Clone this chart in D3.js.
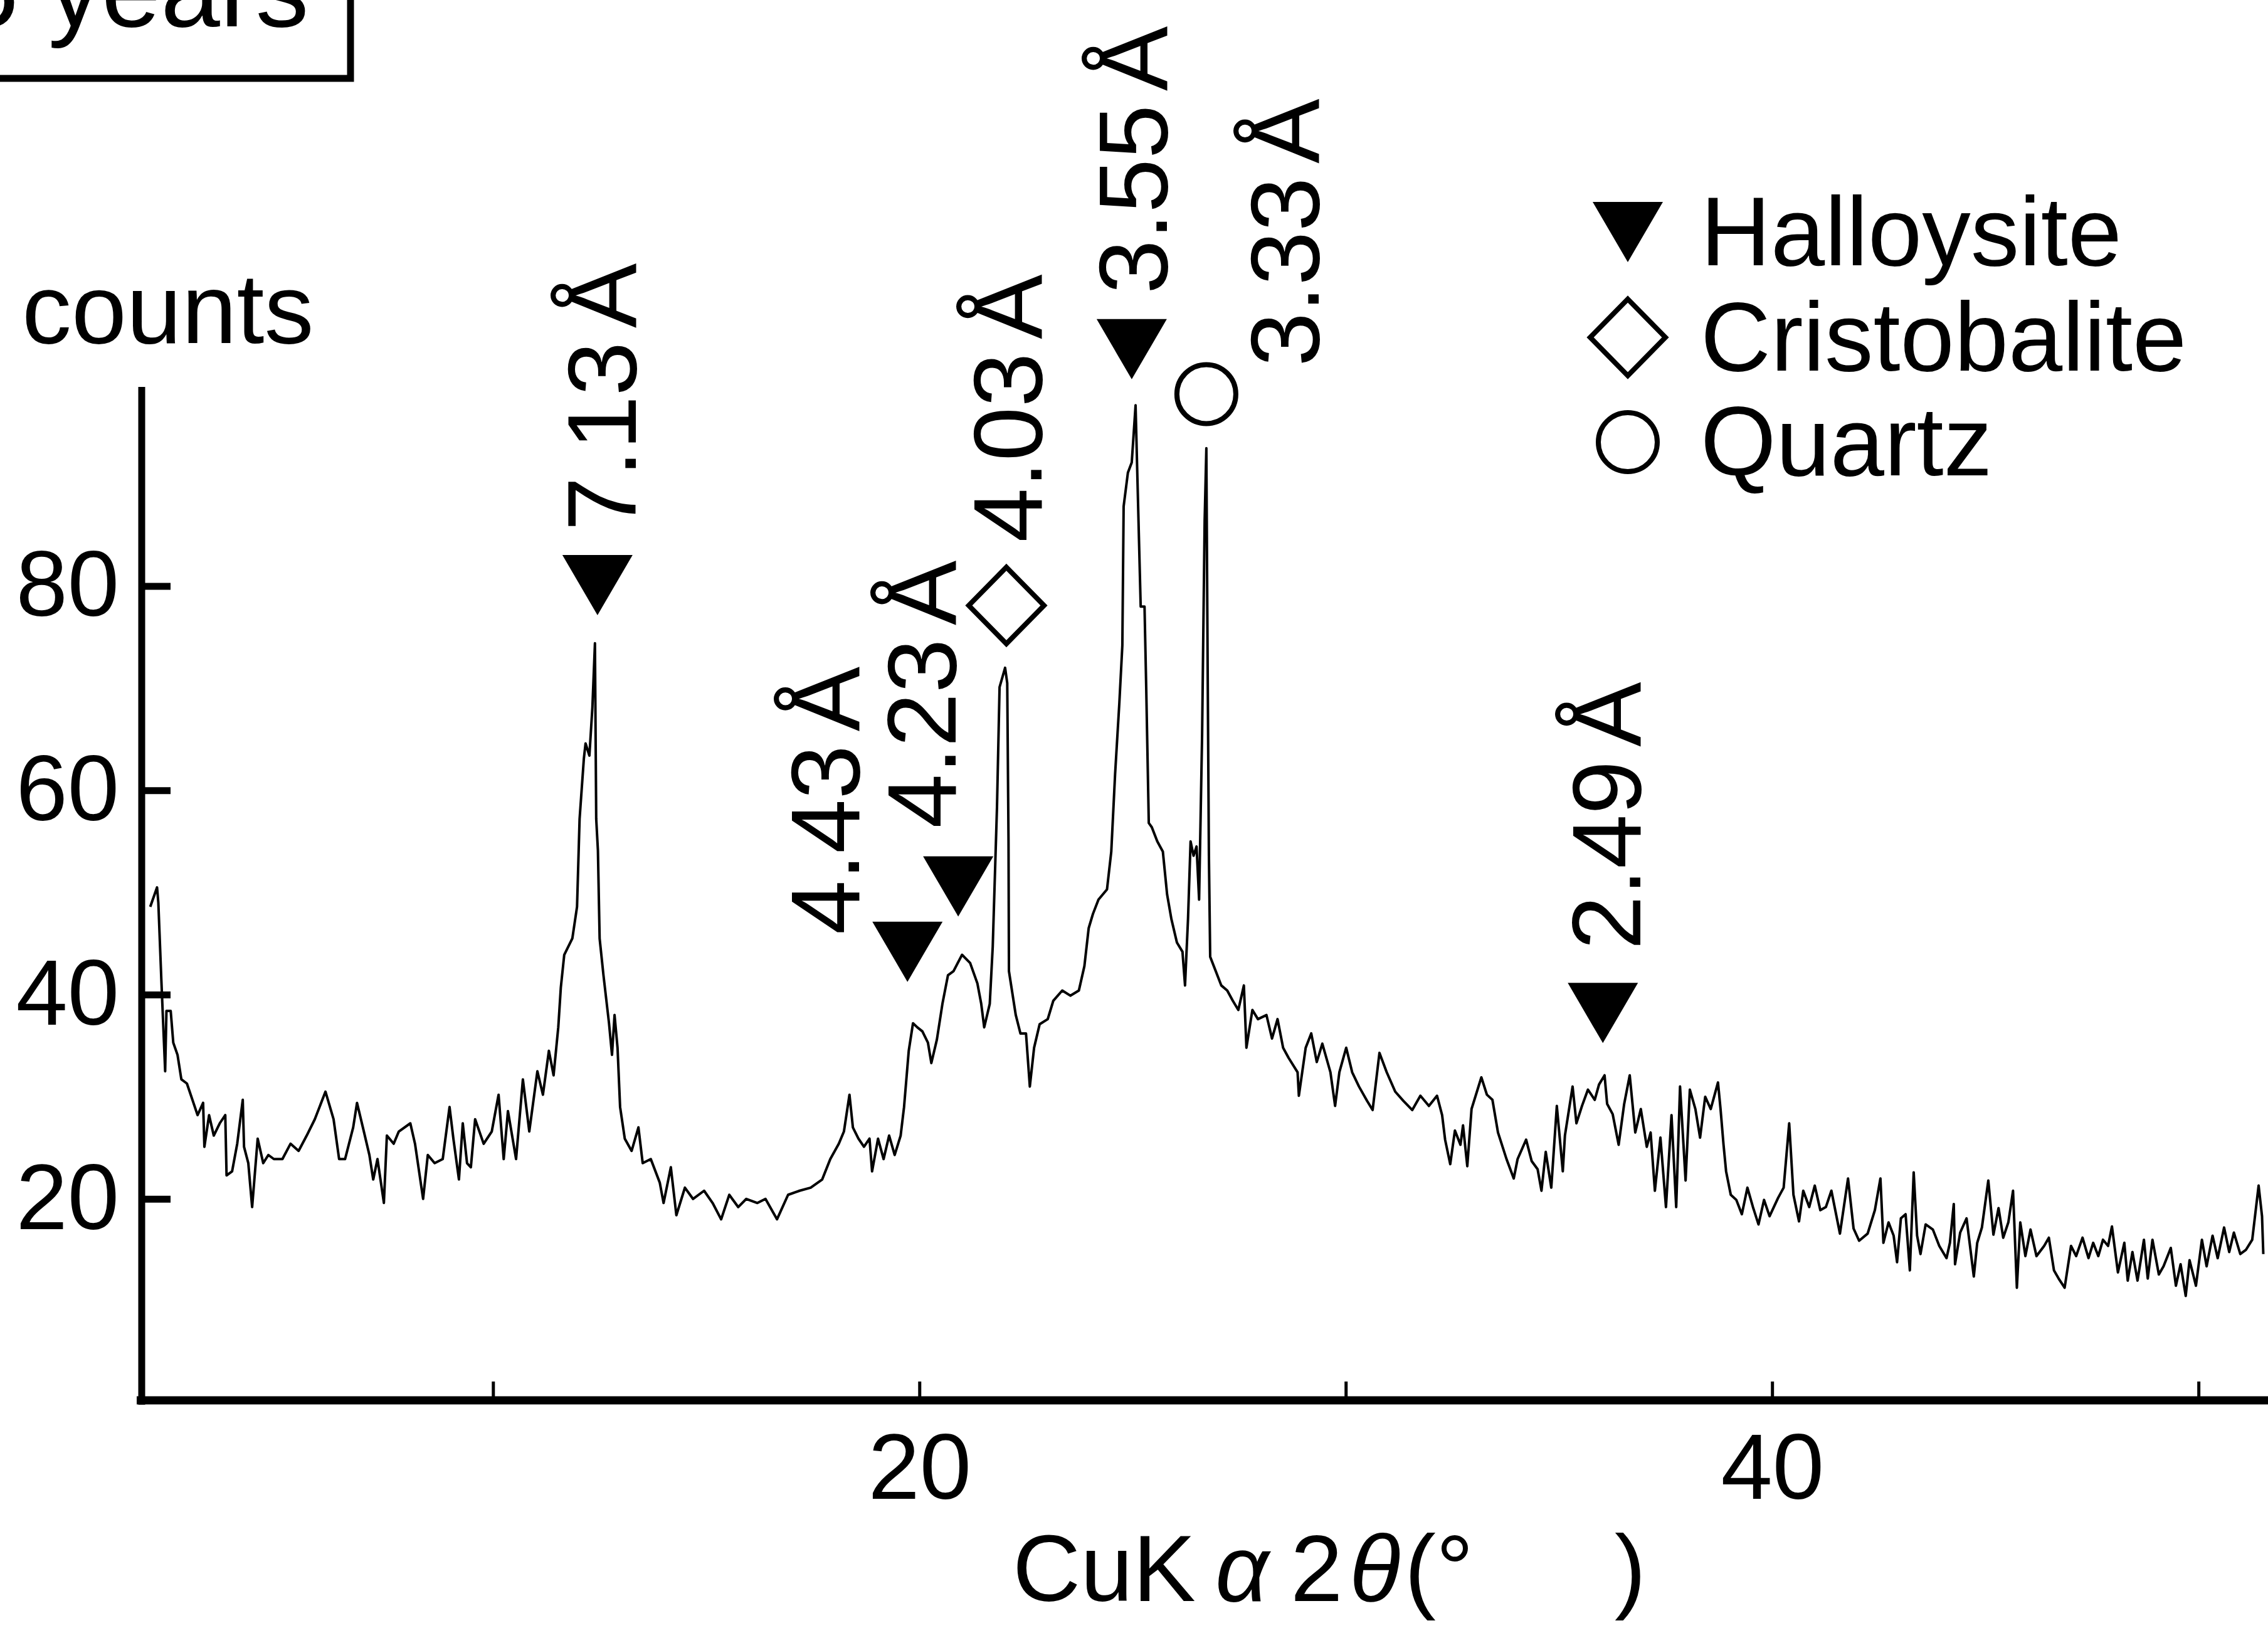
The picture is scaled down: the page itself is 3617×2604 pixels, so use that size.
<!DOCTYPE html>
<html><head><meta charset="utf-8">
<script src="https://cdn.jsdelivr.net/npm/d3@7"></script>
<style>html,body{margin:0;padding:0;background:#fff;overflow:hidden}svg{display:block}</style>
</head><body>
<script>
// ---------- data ----------
const twoTheta = [
1.96,2.12,2.15,2.22,2.31,2.34,2.44,2.50,2.60,2.69,2.82,2.95,3.07,3.20,3.23,3.34,3.45,3.59,3.72,3.75,3.88,4.00,4.13,4.16,4.26,4.35,4.48,4.61,4.73,4.86,5.06,5.25,5.44,5.63,5.82,6.07,6.26,6.39,6.53,6.72,6.81,6.97,7.10,7.19,7.29,7.44,7.51,7.67,7.79,8.06,8.17,8.36,8.47,8.63,8.82,8.98,9.07,9.20,9.29,9.39,9.48,9.58,9.78,9.97,10.13,10.25,10.35,10.54,10.70,10.85,11.04,11.17,11.31,11.42,11.53,11.59,11.67,11.86,11.97,12.03,12.13,12.17,12.26,12.33,12.39,12.42,12.46,12.50,12.59,12.72,12.79,12.85,12.92,12.98,13.09,13.25,13.41,13.51,13.70,13.91,14.00,14.17,14.30,14.50,14.69,14.95,15.15,15.35,15.54,15.75,15.94,16.20,16.39,16.66,16.92,17.19,17.45,17.72,17.91,18.11,18.23,18.36,18.44,18.57,18.70,18.83,18.89,19.03,19.16,19.29,19.42,19.56,19.64,19.75,19.85,19.95,20.07,20.20,20.28,20.41,20.54,20.67,20.80,21.00,21.19,21.36,21.45,21.52,21.65,21.72,21.82,21.88,22.01,22.06,22.09,22.10,22.26,22.37,22.50,22.59,22.69,22.82,23.01,23.14,23.35,23.54,23.74,23.87,23.97,24.07,24.20,24.40,24.50,24.59,24.69,24.76,24.79,24.89,24.98,25.07,25.11,25.19,25.28,25.32,25.38,25.45,25.58,25.71,25.81,25.91,26.04,26.17,26.23,26.30,26.36,26.43,26.50,26.56,26.63,26.69,26.73,26.76,26.79,26.82,26.95,27.08,27.22,27.35,27.48,27.61,27.67,27.81,27.94,28.14,28.27,28.40,28.53,28.66,28.87,28.90,29.06,29.19,29.32,29.45,29.64,29.75,29.85,30.01,30.15,30.31,30.50,30.63,30.79,30.96,31.16,31.35,31.56,31.75,31.95,32.14,32.26,32.33,32.45,32.56,32.69,32.75,32.85,32.95,33.18,33.31,33.44,33.57,33.77,33.94,34.03,34.23,34.36,34.50,34.59,34.69,34.82,34.95,35.09,35.14,35.32,35.41,35.54,35.68,35.84,35.94,36.07,36.13,36.26,36.40,36.53,36.66,36.79,36.92,37.06,37.15,37.25,37.38,37.51,37.64,37.75,37.84,37.97,38.07,38.20,38.31,38.43,38.56,38.73,38.79,38.86,38.92,39.03,39.16,39.29,39.42,39.55,39.68,39.81,39.94,40.14,40.27,40.40,40.50,40.63,40.73,40.87,41.00,41.13,41.26,41.39,41.59,41.78,41.91,42.04,42.24,42.41,42.54,42.61,42.73,42.85,42.93,43.02,43.13,43.23,43.32,43.40,43.48,43.60,43.77,43.92,44.09,44.17,44.26,44.29,44.41,44.56,44.73,44.81,44.92,45.07,45.19,45.31,45.42,45.54,45.65,45.74,45.82,45.94,46.06,46.20,46.38,46.49,46.61,46.72,46.86,47.01,47.13,47.28,47.42,47.53,47.65,47.76,47.88,47.97,48.11,48.26,48.34,48.45,48.57,48.72,48.81,48.92,49.07,49.18,49.35,49.47,49.58,49.70,49.79,49.94,50.08,50.19,50.33,50.45,50.60,50.72,50.83,50.98,51.11,51.26,51.41,51.49,51.52];
const counts = [
48.6,50.5,49.0,41.5,32.5,38.4,38.4,35.3,34.1,31.7,31.3,29.7,28.2,29.4,25.1,28.2,26.2,27.4,28.2,22.3,22.7,25.4,29.7,25.1,23.5,19.2,25.9,23.5,24.3,23.9,23.9,25.4,24.7,26.2,27.8,30.5,27.8,23.9,23.9,27.0,29.4,26.6,24.3,21.9,23.9,19.6,26.2,25.4,26.6,27.4,25.4,20.0,24.3,23.5,23.9,29.0,25.9,21.9,27.4,23.5,23.1,27.8,25.4,26.6,30.2,23.9,28.6,23.9,31.7,26.6,32.5,30.2,34.5,32.1,36.8,40.7,43.9,45.5,48.6,57.2,63.1,64.6,63.4,68.1,74.4,57.2,54.1,45.5,41.9,37.2,34.1,38.0,34.8,29.0,25.9,24.7,27.0,23.5,23.9,21.6,19.6,23.1,18.4,21.1,20.0,20.8,19.6,18.0,20.4,19.2,20.0,19.6,20.0,18.0,20.4,20.8,21.1,21.9,23.9,25.4,26.6,30.2,27.0,25.9,25.1,25.9,22.7,25.9,23.9,26.2,24.3,26.2,29.0,34.5,37.2,36.8,36.4,35.3,33.3,35.6,39.1,41.9,42.3,43.9,43.1,41.1,39.1,36.8,39.1,44.7,58.4,70.1,72.0,70.5,55.0,42.3,38.0,36.2,36.2,31.0,34.8,37.1,37.6,39.4,40.4,39.9,40.4,42.8,46.5,47.9,49.3,50.3,54.0,61.6,68.6,74.2,87.8,91.1,92.1,97.7,91.1,78.0,78.0,70.0,56.8,56.4,55.0,54.0,49.8,47.4,45.1,44.2,40.9,47.4,55.0,53.6,54.5,49.3,65.3,86.4,93.5,72.4,53.6,43.7,42.3,40.9,40.4,39.4,38.5,40.9,34.8,38.5,37.6,38.0,35.7,37.6,34.8,33.8,32.4,30.1,34.8,36.2,33.4,35.2,32.4,29.1,32.4,34.8,32.4,31.0,29.6,28.7,34.3,32.4,30.5,29.6,28.7,30.1,29.1,30.1,28.2,25.8,23.4,26.7,25.3,27.2,23.2,28.8,31.9,30.2,29.7,26.5,23.9,22.0,23.9,25.8,23.7,22.9,20.8,24.6,21.1,29.1,22.7,26.2,31.0,27.4,29.1,30.7,29.7,31.2,32.1,29.3,28.3,25.3,29.3,32.1,26.5,28.8,25.1,26.5,20.8,26.0,19.2,28.2,19.2,31.0,21.8,30.7,28.8,26.0,30.0,28.8,31.4,28.8,25.3,22.7,20.4,19.9,18.5,21.1,19.2,17.5,19.9,18.3,20.1,21.1,27.4,20.4,17.8,20.8,19.2,21.3,18.9,19.2,20.8,16.6,22.0,17.1,15.9,16.6,18.9,22.0,15.7,17.7,16.4,13.8,18.1,18.5,13.0,22.6,16.4,14.6,17.5,17.0,15.4,14.2,15.7,19.5,13.6,16.7,18.1,12.4,15.7,17.2,21.8,16.5,19.1,16.2,17.7,20.8,11.3,17.7,14.4,17.0,14.4,15.4,16.2,13.0,12.2,11.3,15.4,14.4,16.2,14.2,15.7,14.4,16.0,15.4,17.3,12.8,15.7,12.0,14.8,12.0,16.0,12.2,16.0,12.6,13.4,15.2,11.5,13.6,10.5,14.0,11.5,16.0,13.4,16.4,14.2,17.2,14.8,16.7,14.6,15.0,16.0,21.3,18.3,14.6];

const xTickValues = [10, 20, 30, 40, 50];
const xTickLabels = ["", "20", "", "40", ""];
const yTickValues = [20, 40, 60, 80];

const peakD      = ["7.13", "4.43", "4.23", "4.03", "3.55", "3.33", "2.49"];
const peakPhase  = ["Halloysite", "Halloysite", "Halloysite", "Cristobalite", "Halloysite", "Quartz", "Halloysite"];
const peakTheta  = [12.45, 19.72, 20.91, 22.04, 24.98, 26.73, 36.03];   // marker 2θ
const peakLevel  = [80.1, 44.2, 50.6, 78.1, 103.2, 98.8, 38.2];         // marker height (counts)
const labelTheta = [13.35, 18.59, 20.85, 22.86, 25.81, 29.36, 36.91];   // label baseline 2θ
const labelLevel = [85.4, 45.9, 56.3, 84.3, 108.6, 101.5, 44.4];        // label start (counts)

const legendPhases = ["Halloysite", "Cristobalite", "Quartz"];

// ---------- layout ----------
const W = 3617, H = 2604;
const FONT = "'Liberation Sans', Arial, Helvetica, sans-serif";
const svg = d3.select("body").append("svg").attr("width", W).attr("height", H)
  .style("font-family", FONT);
svg.append("rect").attr("width", W).attr("height", H).attr("fill", "#fff");

const x = d3.scaleLinear().domain([1.76, 51.63]).range([226, 3617]);
const y = d3.scaleLinear().domain([0, 99.5]).range([2237.5, 617]);
const axisY = 2233;

// title box (partially cut off at top-left, as in the reference)
svg.append("rect").attr("x", -30).attr("y", -300).attr("width", 589).attr("height", 425)
  .attr("fill", "none").attr("stroke", "#000").attr("stroke-width", 11);
svg.append("text").attr("x", -65).attr("y", 42).attr("font-size", 170).text("5 years");

// y-axis caption
svg.append("text").attr("x", 35).attr("y", 547).attr("font-size", 158).text("counts");

// trace
const pts = twoTheta.map((t, i) => [t, counts[i]]);
svg.append("path").datum(pts)
  .attr("fill", "none").attr("stroke", "#000").attr("stroke-width", 4)
  .attr("stroke-linejoin", "round")
  .attr("d", d3.line().x(d => x(d[0])).y(d => y(d[1])));

// x axis
const gx = svg.append("g").attr("transform", `translate(0,${axisY})`)
  .call(d3.axisBottom(x).tickValues(xTickValues)
    .tickFormat((d, i) => xTickLabels[i]).tickSizeInner(-30).tickSizeOuter(0).tickPadding(52));
gx.select(".domain").attr("stroke-width", 13).attr("d", `M218,0H${W}`);
gx.selectAll(".tick line").attr("stroke-width", 5);
gx.selectAll(".tick text").attr("font-size", 148).attr("font-family", FONT).attr("fill", "#000");

// y axis
const gy = svg.append("g").attr("transform", `translate(${x(1.76)},0)`)
  .call(d3.axisLeft(y).tickValues(yTickValues).tickSizeInner(-46).tickSizeOuter(0).tickPadding(36));
gy.select(".domain").attr("stroke-width", 11).attr("d", `M0,2240V617`);
gy.selectAll(".tick line").attr("stroke-width", 11);
gy.selectAll(".tick text").attr("font-size", 148).attr("font-family", FONT).attr("fill", "#000");

// x-axis title
const xt = svg.append("text").attr("y", 2553).attr("font-size", 150).attr("fill", "#000");
xt.append("tspan").attr("x", 1615).text("CuK");
xt.append("tspan").attr("x", 1938).attr("font-style", "italic").text("α");
xt.append("tspan").attr("x", 2058).text("2");
xt.append("tspan").attr("x", 2152).attr("font-style", "italic").text("θ");
xt.append("tspan").attr("x", 2240).text("(");
xt.append("tspan").attr("x", 2290).text("°");
xt.append("tspan").attr("x", 2575).text(")");

// markers
function drawMarker(g, phase) {
  if (phase === "Halloysite") {
    g.append("path").attr("d", "M-56,-48L56,-48L0,48Z").attr("fill", "#000");
  } else if (phase === "Cristobalite") {
    g.append("path").attr("d", "M0,-61L60,0L0,61L-60,0Z").attr("fill", "none")
      .attr("stroke", "#000").attr("stroke-width", 8);
  } else {
    g.append("circle").attr("r", 47).attr("fill", "none")
      .attr("stroke", "#000").attr("stroke-width", 8);
  }
}
peakD.forEach((d, i) => {
  const g = svg.append("g").attr("transform", `translate(${x(peakTheta[i])},${y(peakLevel[i])})`);
  drawMarker(g, peakPhase[i]);
  const t = svg.append("text")
    .attr("transform", `translate(${x(labelTheta[i])},${y(labelLevel[i])}) rotate(-90)`)
    .attr("font-size", 155).attr("fill", "#000");
  t.append("tspan").text(d);
  t.append("tspan").attr("dx", 22).text("Å");
});

// legend
legendPhases.forEach((p, i) => {
  const cy = [370, 538, 705][i];
  const g = svg.append("g").attr("transform", `translate(2596,${cy})`);
  drawMarker(g, p);
  svg.append("text").attr("x", 2712).attr("y", cy + 53).attr("font-size", 155).attr("fill", "#000").text(p);
});
</script>
</body></html>
